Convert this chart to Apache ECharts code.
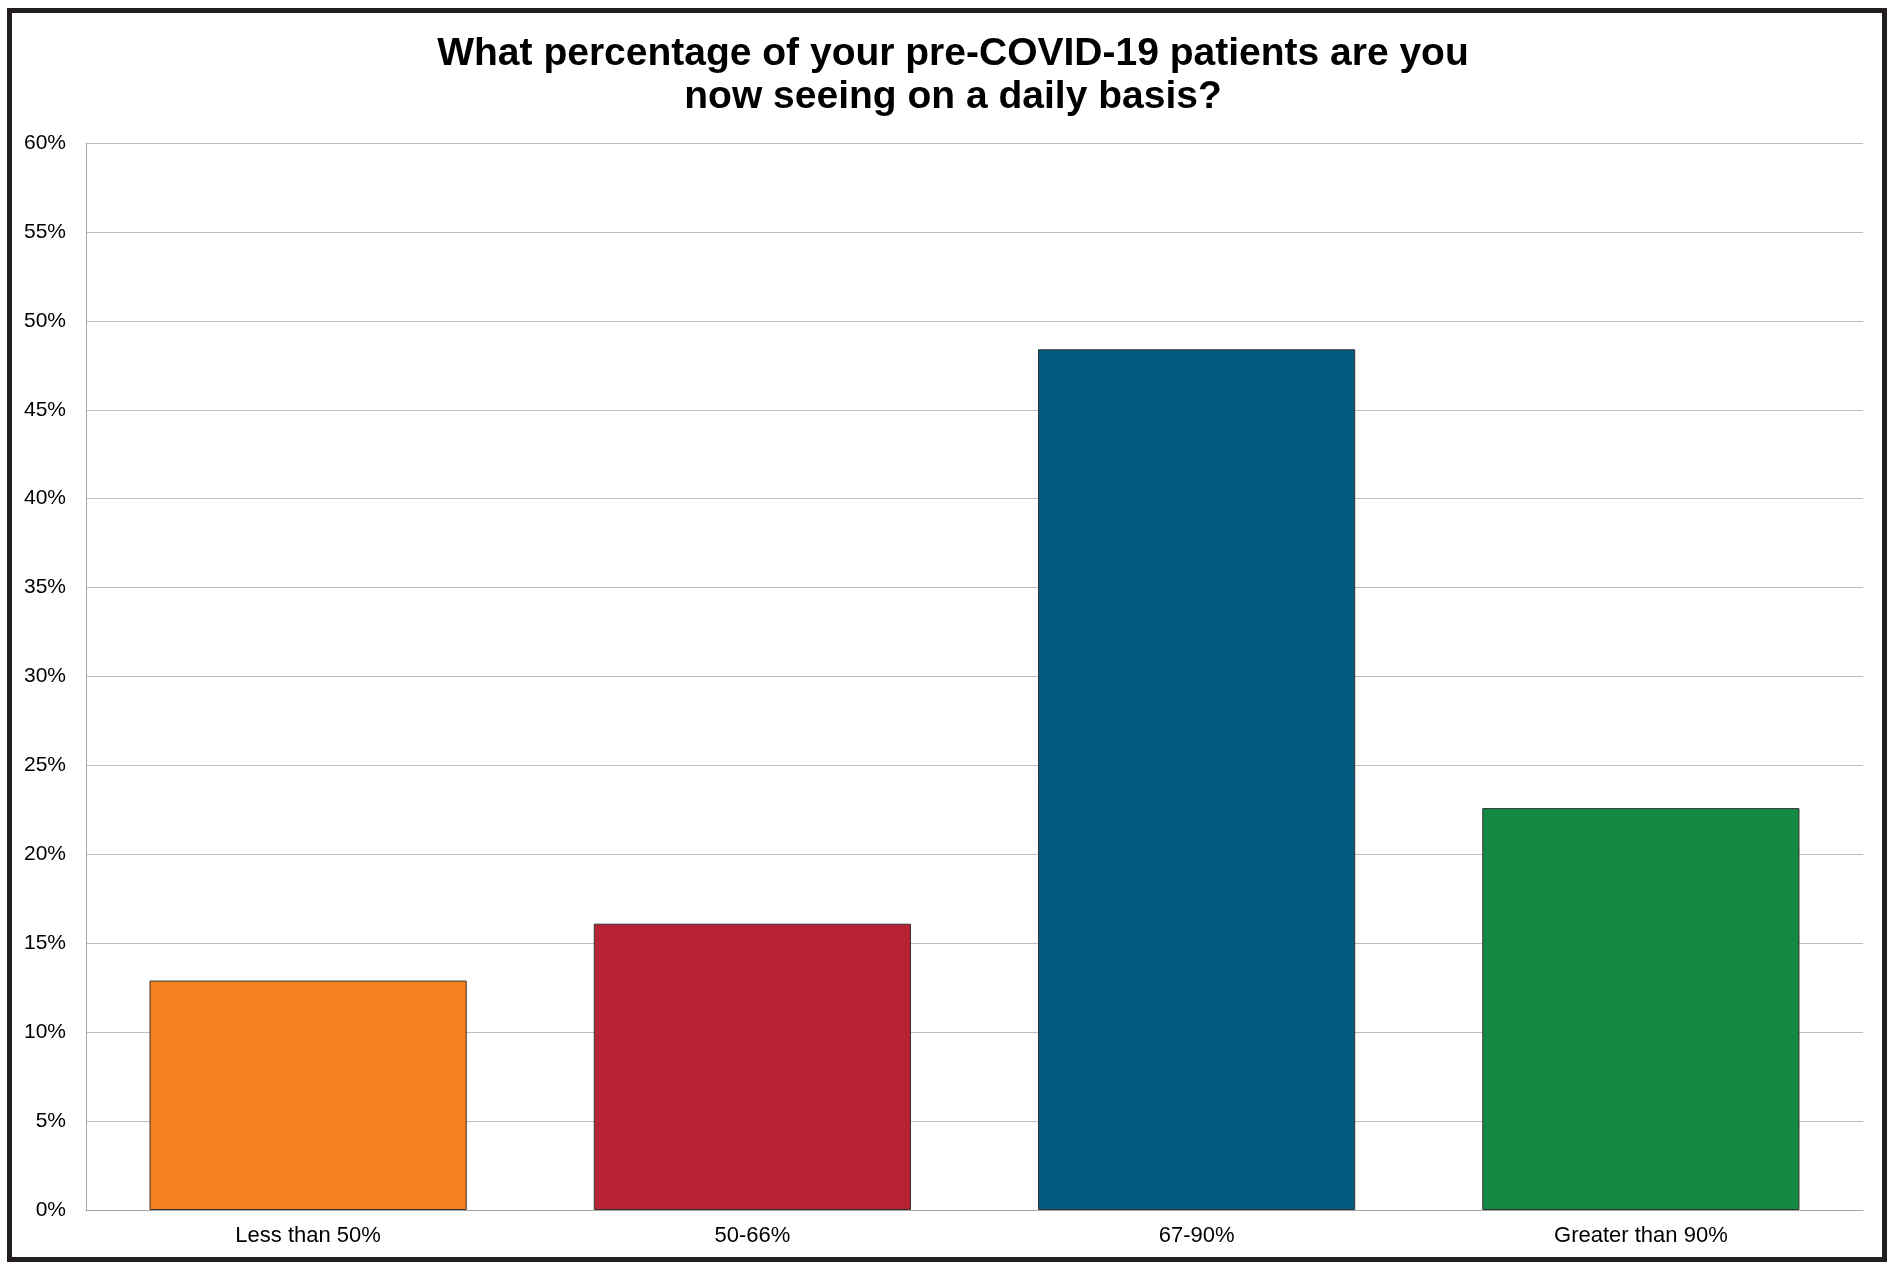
<!DOCTYPE html>
<html>
<head>
<meta charset="utf-8">
<script src="https://cdn.jsdelivr.net/npm/echarts@6/dist/echarts.min.js"></script>
<style>html,body{margin:0;padding:0;background:#fff}#c{width:1896px;height:1270px}</style>
</head>
<body>
<div id="c"></div>
<script>
const categories = ['Less than 50%', '50-66%', '67-90%', 'Greater than 90%'];
const values = [12.9, 16.1, 48.4, 22.6];
const barColors = ['#F58220', '#B82234', '#005A7F', '#138943'];
const titleText = 'What percentage of your pre-COVID-19 patients are you\nnow seeing on a daily basis?';

const chart = echarts.init(document.getElementById('c'));
chart.setOption({
  backgroundColor: '#fff',
  animation: false,
  title: {
    text: titleText,
    left: 948,
    top: 28,
    textAlign: 'center',
    textStyle: { fontFamily: 'Liberation Sans, Arial', fontWeight: 'bold', fontSize: 39, lineHeight: 43, color: '#000' }
  },
  graphic: [{
    type: 'rect',
    shape: { x: 9.5, y: 10.5, width: 1875, height: 1249 },
    style: { fill: 'none', stroke: '#231f20', lineWidth: 5 },
    silent: true
  }],
  grid: { left: 86, right: 33, top: 143, bottom: 60, containLabel: false },
  xAxis: {
    type: 'category',
    data: categories,
    axisLine: { show: true, lineStyle: { color: '#a6a6a6', width: 1 } },
    axisTick: { show: false },
    axisLabel: { color: '#000', fontSize: 22, fontFamily: 'Liberation Sans, Arial', margin: 15 }
  },
  yAxis: {
    type: 'value',
    min: 0, max: 60, interval: 5,
    axisLine: { show: true, lineStyle: { color: '#a6a6a6', width: 1 } },
    axisTick: { show: false },
    splitLine: { lineStyle: { color: '#bdbdbd', width: 1 } },
    axisLabel: { formatter: '{value}%', color: '#000', fontSize: 21, fontFamily: 'Liberation Sans, Arial', margin: 20 }
  },
  series: [{
    type: 'bar',
    data: values.map((v, i) => ({ value: v, itemStyle: { color: barColors[i] } })),
    barCategoryGap: '28.6%',
    itemStyle: { borderColor: '#333', borderWidth: 1 }
  }]
});
</script>
</body>
</html>
